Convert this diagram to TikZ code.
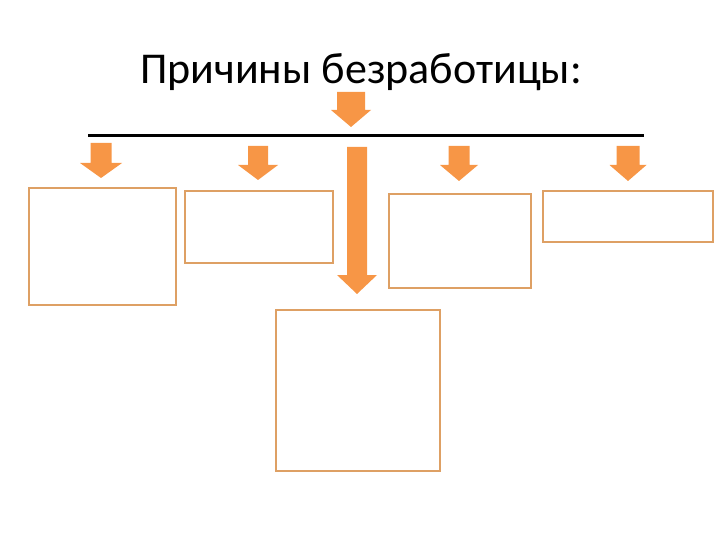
\documentclass[tikz,border=0pt]{standalone}
\usepackage{fontspec}
\setmainfont{Carlito}
\definecolor{arrowor}{RGB}{247,150,70}
\definecolor{boxor}{RGB}{222,160,100}
\tikzset{
  causebox/.style={draw=boxor, line width=2pt, fill=white, inner sep=0pt},
  orarrow/.style={fill=arrowor, draw=none}
}
% #1 center x, #2 shaft half width, #3 head half width, #4 top y, #5 head start y, #6 tip y
\newcommand{\orarrowdraw}[6]{%
  \fill[orarrow] (#1-#2,#4) -- (#1+#2,#4) -- (#1+#2,#5) -- (#1+#3,#5) -- (#1,#6) -- (#1-#3,#5) -- (#1-#2,#5) -- cycle;}
\begin{document}
\begin{tikzpicture}[x=1pt,y=-1pt]
\useasboundingbox (0,0) rectangle (720,540);
\node[anchor=base, font=\fontsize{44}{48}\selectfont, inner sep=0pt] (title) at (361,84) {Причины безработицы:};
\coordinate (lineL) at (88,136);
\coordinate (lineR) at (644,136);
\draw[line width=3pt] (lineL) -- (lineR);
% boxes
\node[causebox, anchor=north west, minimum width=147pt, minimum height=117pt] (b1) at (28,187) {};
\node[causebox, anchor=north west, minimum width=148pt, minimum height=72pt] (b2) at (184,190) {};
\node[causebox, anchor=north west, minimum width=164pt, minimum height=161pt] (b3) at (275,309) {};
\node[causebox, anchor=north west, minimum width=142pt, minimum height=94pt] (b4) at (388,193) {};
\node[causebox, anchor=north west, minimum width=170pt, minimum height=51pt] (b5) at (542,190) {};
% arrows
\orarrowdraw{351}{14}{20}{92}{110}{127}
\orarrowdraw{101}{10.5}{21}{143}{163}{178}
\orarrowdraw{258}{10}{20}{146}{165}{180}
\orarrowdraw{357}{10}{20}{147}{275}{294}
\orarrowdraw{459}{10.5}{19}{146}{165}{181}
\orarrowdraw{628}{11.5}{18.5}{146}{165}{181}
\end{tikzpicture}
\end{document}
